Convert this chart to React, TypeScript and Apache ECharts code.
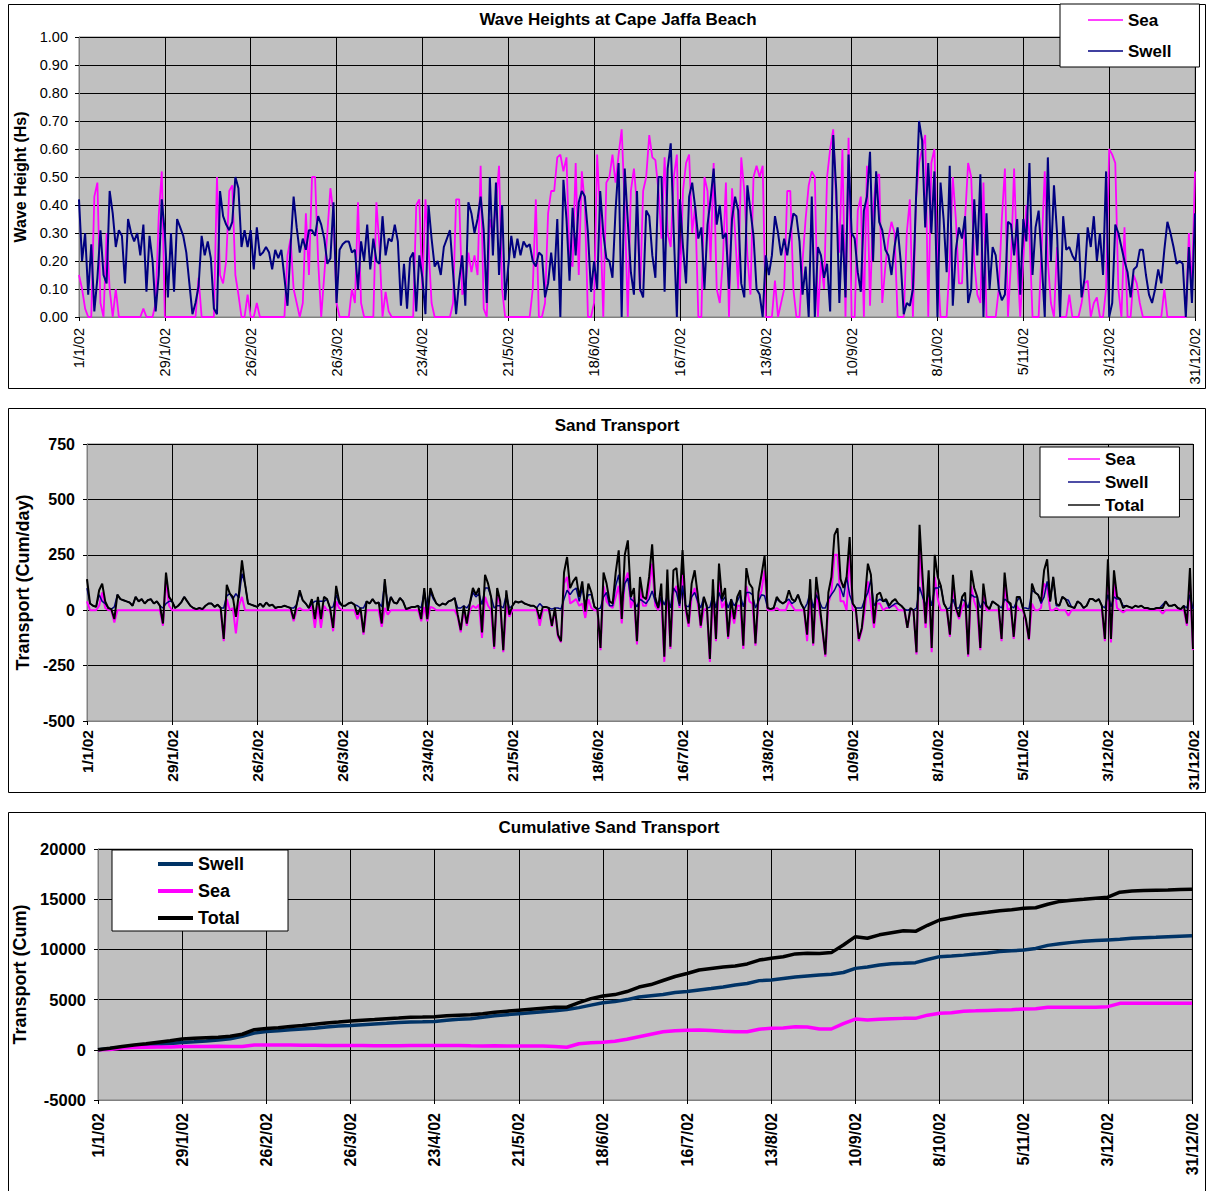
import React, { useEffect, useRef } from "react";
import * as echarts from "echarts";

const FONT = '"Liberation Sans", Arial, Helvetica, sans-serif';

// x axis: day of year 2002 (0 = 1 Jan), labelled every four weeks
const DATE_TICKS = [
  "1/1/02", "29/1/02", "26/2/02", "26/3/02", "23/4/02", "21/5/02", "18/6/02",
  "16/7/02", "13/8/02", "10/9/02", "8/10/02", "5/11/02", "3/12/02", "31/12/02",
];
const TICK_STEP_DAYS = 28;
const LAST_DAY = 364;
const CUM_STEP_DAYS = 4;

// Daily significant wave height (m)
const SEA_HS = [
  0.15, 0.10, 0.03, 0, 0, 0.43, 0.48, 0.05, 0, 0.30,
  0.10, 0, 0.10, 0, 0, 0, 0, 0, 0, 0,
  0, 0.03, 0, 0, 0, 0.05, 0.36, 0.52, 0, 0,
  0, 0, 0, 0, 0, 0, 0, 0, 0, 0.14,
  0, 0, 0, 0, 0, 0.50, 0.15, 0.12, 0.20, 0.45,
  0.47, 0.15, 0.08, 0, 0, 0.08, 0, 0, 0.05, 0,
  0, 0, 0, 0, 0, 0, 0, 0, 0.22, 0.28,
  0.10, 0.05, 0, 0.05, 0.37, 0.15, 0.50, 0.50, 0.20, 0,
  0.15, 0.30, 0.46, 0.37, 0.05, 0, 0, 0, 0, 0.10,
  0.05, 0.41, 0.05, 0, 0, 0, 0, 0.41, 0.25, 0,
  0.09, 0.02, 0, 0, 0, 0, 0, 0, 0, 0,
  0.40, 0.42, 0.10, 0.42, 0.25, 0.05, 0, 0, 0, 0,
  0, 0, 0.05, 0.42, 0.42, 0.08, 0.10, 0.23, 0.16, 0.22,
  0.15, 0.54, 0.03, 0, 0.35, 0.30, 0.40, 0.54, 0.10, 0,
  0, 0, 0, 0, 0, 0, 0, 0, 0.10, 0.42,
  0, 0, 0.05, 0.37, 0.45, 0.45, 0.57, 0.58, 0.52, 0.57,
  0.20, 0.18, 0.55, 0.15, 0.52, 0.40, 0, 0, 0.05, 0.58,
  0.36, 0, 0.48, 0.50, 0.58, 0.48, 0.58, 0.67, 0.40, 0,
  0.45, 0.53, 0.40, 0.09, 0.45, 0.50, 0.65, 0.57, 0.56, 0.45,
  0.28, 0.57, 0.30, 0.25, 0.50, 0.58, 0.10, 0.45, 0.55, 0.58,
  0.30, 0.40, 0, 0, 0.50, 0.45, 0.20, 0.55, 0.10, 0.05,
  0.20, 0.48, 0, 0.46, 0.30, 0.10, 0.57, 0.45, 0.22, 0.08,
  0.50, 0.54, 0.50, 0.54, 0, 0, 0, 0.13, 0, 0.05,
  0.10, 0.45, 0.45, 0.10, 0, 0, 0.20, 0.35, 0.47, 0.52,
  0.50, 0, 0.20, 0.10, 0.50, 0.60, 0.67, 0.40, 0.23, 0.60,
  0, 0.64, 0, 0, 0.38, 0.43, 0, 0.54, 0.04, 0.38,
  0.50, 0.51, 0.05, 0.18, 0.28, 0.34, 0.30, 0, 0, 0,
  0.30, 0.42, 0, 0.42, 0.55, 0.60, 0.65, 0, 0.55, 0.60,
  0.20, 0, 0, 0, 0.20, 0.50, 0.35, 0.12, 0.12, 0.35,
  0.55, 0.50, 0.20, 0.08, 0.05, 0.48, 0, 0, 0, 0,
  0.10, 0.35, 0.53, 0, 0.20, 0.53, 0.20, 0, 0.20, 0.40,
  0.30, 0, 0, 0, 0.25, 0.52, 0.20, 0.05, 0, 0.25,
  0, 0, 0, 0.08, 0, 0, 0, 0.05, 0.12, 0.13,
  0, 0.05, 0.07, 0, 0, 0.10, 0.60, 0.58, 0.55, 0.10,
  0, 0.32, 0, 0, 0.15, 0.12, 0.05, 0, 0, 0,
  0, 0, 0, 0, 0.10, 0, 0, 0, 0, 0,
  0, 0, 0.30, 0.10, 0.52,
];

const SWELL_HS = [
  0.42, 0.20, 0.30, 0.08, 0.26, 0.02, 0.14, 0.31, 0.15, 0.12,
  0.45, 0.37, 0.25, 0.31, 0.29, 0.12, 0.35, 0.30, 0.27, 0.30,
  0.22, 0.33, 0.09, 0.29, 0.20, 0.02, 0.15, 0.42, 0.30, 0.07,
  0.30, 0.09, 0.35, 0.32, 0.29, 0.23, 0.12, 0.01, 0.05, 0.11,
  0.29, 0.22, 0.27, 0.21, 0.03, 0.01, 0.45, 0.36, 0.33, 0.31,
  0.34, 0.50, 0.46, 0.25, 0.31, 0.25, 0.31, 0.17, 0.32, 0.22,
  0.23, 0.25, 0.23, 0.17, 0.24, 0.21, 0.24, 0.14, 0.04, 0.25,
  0.43, 0.32, 0.23, 0.28, 0.24, 0.31, 0.31, 0.29, 0.36, 0.33,
  0.28, 0.19, 0.21, 0.41, 0.05, 0.24, 0.26, 0.27, 0.27, 0.23,
  0.24, 0.10, 0.27, 0.20, 0.33, 0.17, 0.28, 0.20, 0.19, 0.36,
  0.22, 0.28, 0.27, 0.33, 0.27, 0.04, 0.19, 0.03, 0.21, 0.23,
  0.02, 0.22, 0.14, 0.01, 0.40, 0.28, 0.18, 0.20, 0.15, 0.25,
  0.28, 0.31, 0.16, 0.01, 0.13, 0.22, 0.04, 0.41, 0.37, 0.30,
  0.35, 0.43, 0.31, 0.05, 0.50, 0.22, 0.48, 0.15, 0.40, 0.06,
  0.18, 0.29, 0.21, 0.28, 0.22, 0.27, 0.25, 0.26, 0.20, 0.18,
  0.23, 0.22, 0.07, 0.12, 0.23, 0.13, 0.35, 0.00, 0.49, 0.35,
  0.13, 0.39, 0.22, 0.41, 0.45, 0.43, 0.30, 0.09, 0.20, 0.10,
  0.45, 0.30, 0.21, 0.20, 0.14, 0.38, 0.55, 0.00, 0.53, 0.34,
  0.16, 0.08, 0.45, 0.10, 0.07, 0.38, 0.36, 0.22, 0.14, 0.50,
  0.50, 0.09, 0.53, 0.62, 0.30, 0.00, 0.42, 0.25, 0.12, 0.43,
  0.48, 0.39, 0.28, 0.32, 0.10, 0.33, 0.42, 0.53, 0.33, 0.40,
  0.28, 0.30, 0.10, 0.35, 0.43, 0.38, 0.12, 0.07, 0.47, 0.38,
  0.29, 0.10, 0.08, 0.00, 0.22, 0.15, 0.22, 0.36, 0.30, 0.22,
  0.28, 0.22, 0.30, 0.37, 0.36, 0.27, 0.08, 0.18, 0.00, 0.43,
  0.00, 0.25, 0.22, 0.14, 0.19, 0.02, 0.65, 0.45, 0.05, 0.33,
  0.07, 0.58, 0.30, 0.28, 0.16, 0.09, 0.38, 0.43, 0.59, 0.20,
  0.52, 0.34, 0.31, 0.24, 0.22, 0.15, 0.25, 0.32, 0.20, 0.01,
  0.05, 0.04, 0.10, 0.42, 0.70, 0.63, 0.32, 0.55, 0.30, 0.52,
  0.00, 0.48, 0.35, 0.16, 0.54, 0.04, 0.24, 0.32, 0.28, 0.36,
  0.05, 0.10, 0.42, 0.22, 0.51, 0.00, 0.37, 0.10, 0.25, 0.22,
  0.10, 0.06, 0.08, 0.34, 0.33, 0.22, 0.35, 0.08, 0.35, 0.27,
  0.55, 0.15, 0.32, 0.38, 0.20, 0.00, 0.57, 0.20, 0.47, 0.30,
  0.00, 0.36, 0.24, 0.25, 0.22, 0.20, 0.30, 0.07, 0.14, 0.32,
  0.25, 0.36, 0.20, 0.30, 0.15, 0.52, 0.00, 0.05, 0.33, 0.30,
  0.25, 0.20, 0.16, 0.07, 0.17, 0.18, 0.24, 0.24, 0.15, 0.08,
  0.05, 0.10, 0.17, 0.12, 0.24, 0.34, 0.30, 0.25, 0.19, 0.20,
  0.19, 0.00, 0.25, 0.05, 0.37,
];

// Daily longshore sand transport (cubic metres per day)
const SEA_Q = [
  40, 0, 0, 0, 20, 80, 10, 0, 0, -55,
  0, 0, 0, 0, 0, 0, 0, 0, 0, 0,
  0, 0, 0, 0, 0, -70, 140, 20, 0, 0,
  0, 0, 0, 0, 0, 0, 0, 0, 0, 0,
  0, 0, 0, 0, 0, -140, 50, 0, 10, -105,
  20, 60, 0, 0, 0, 0, 0, 0, 0, 0,
  0, 0, 0, 0, 0, 0, 0, 0, -50, 0,
  10, 0, 0, 0, 20, -80, 20, -80, 20, 0,
  0, -95, 40, 10, 0, 0, 0, 0, 0, -40,
  0, -110, 0, 0, 0, 0, 0, -75, 10, -20,
  0, 0, 0, 0, 0, 0, 0, 0, 0, 0,
  -50, 15, -50, 15, 10, 0, 0, 0, 0, 0,
  0, 0, -30, -100, 0, -70, 0, 20, 10, 25,
  -125, 60, 20, 0, -175, 80, 20, -190, 20, -30,
  0, 0, 0, 0, 0, 0, 0, 0, 0, -70,
  0, 0, 0, -75, 0, -120, -145, 120, 150, 30,
  40, 50, 20, 30, -35, 50, 10, 0, 0, -180,
  110, 40, 20, 10, 60, 110, -60, 130, 170, 10,
  60, -155, 100, 20, 20, 100, 210, 20, 0, 60,
  -233, 120, -175, 80, 110, 10, 160, 0, -75, 60,
  100, 30, -80, 0, 10, -233, 70, -140, 130, 10,
  40, -130, 0, -60, 20, 20, -175, 110, 40, 30,
  -160, 40, 90, 180, 0, 0, 0, 10, 0, 0,
  0, 40, 20, 0, 0, 0, 0, -140, 60, -160,
  80, 0, -90, -210, 30, 80, 250, 250, 40, 40,
  0, 260, 0, 0, -140, -90, 0, 130, 20, -80,
  30, 30, 0, 10, 10, 20, 20, 0, 0, 0,
  -80, 5, 0, -200, 280, 90, -80, 100, -190, 150,
  50, 0, 0, 0, -120, 110, 0, -40, 10, 40,
  -210, 110, 40, 0, -180, 80, 0, 0, 0, 0,
  0, -140, 120, 0, 10, -130, 20, 0, 0, -50,
  -135, 30, 0, 0, 10, 120, 100, 0, 0, 10,
  0, 0, 0, -25, 0, 0, 0, 0, 0, 0,
  0, 0, 0, 0, 0, -140, 160, -145, 120, 10,
  0, -10, 0, 0, 0, 0, 0, 0, 0, 0,
  0, 0, 0, 0, -15, 0, 0, 0, 0, 0,
  0, 0, -70, 120, -180,
];

const SWELL_Q = [
  100, 30, 20, 15, 70, 40, 30, 10, 5, 15,
  70, 50, 45, 40, 35, 20, 60, 40, 50, 30,
  45, 50, 30, 40, 20, 10, 30, 40, 40, 10,
  20, 35, 60, 40, 20, 10, 5, 10, 5, 20,
  30, 30, 15, 25, 10, 10, 65, 75, 50, 75,
  55, 165, 120, 30, 25, 20, 15, 30, 15, 35,
  20, 25, 10, 15, 15, 20, 15, 10, 10, 25,
  80, 45, 30, 10, 30, 40, 40, 40, 40, 50,
  10, 15, 70, 30, 20, 20, 30, 35, 25, 20,
  10, 10, 40, 30, 50, 30, 35, 15, 130, 20,
  60, 35, 30, 55, 40, 5, 10, 15, 15, 20,
  10, 85, 10, 85, 50, 30, 20, 30, 25, 40,
  45, 55, 10, 10, 20, 10, 30, 80, 60, 75,
  25, 100, 100, 60, 10, 20, 20, 10, 70, 10,
  20, 40, 35, 40, 30, 25, 20, 20, 10, 30,
  15, 15, 10, 5, 10, 10, 5, 50, 90, 70,
  90, 100, 40, 100, 30, 70, 70, 15, 5, 10,
  60, 80, 20, 20, 110, 160, 20, 120, 145, 50,
  40, 15, 50, 40, 30, 50, 87, 40, 10, 60,
  23, 64, 10, 100, 80, 20, 111, 20, 15, 60,
  80, 40, 10, 60, 10, 13, 70, 10, 80, 40,
  60, 10, 50, 20, 40, 70, 15, 80, 80, 70,
  10, 40, 70, 65, 10, 5, 10, 50, 40, 30,
  40, 50, 30, 40, 70, 30, 5, 30, 80, 10,
  70, 40, 10, 10, 50, 70, 90, 120, 100, 60,
  150, 70, 30, 10, 10, 10, 50, 80, 140, 20,
  40, 50, 40, 40, 10, 20, 30, 30, 20, 5,
  0, 5, 0, 10, 105, 60, 20, 80, 20, 100,
  100, 110, 30, 5, 10, 50, 10, 10, 50, 40,
  10, 70, 60, 60, 10, 40, 20, 5, 40, 30,
  20, 10, 50, 40, 20, 10, 40, 60, 10, 10,
  5, 90, 80, 70, 30, 60, 130, 40, 150, 20,
  20, 60, 50, 45, 15, 10, 40, 30, 10, 20,
  50, 50, 40, 50, 20, 10, 70, 15, 60, 50,
  50, 20, 20, 15, 10, 20, 15, 20, 10, 10,
  5, 5, 10, 10, 25, 40, 20, 20, 25, 10,
  5, 20, 10, 70, 5,
];

// Cumulative transport (cubic metres), one value every CUM_STEP_DAYS days
const CUM_SWELL = [
  0, 120, 250, 350, 430, 520, 620, 730, 800, 880,
  980, 1100, 1350, 1660, 1830, 1900, 2000, 2080, 2150, 2280,
  2360, 2420, 2500, 2580, 2650, 2730, 2760, 2790, 2830, 2950,
  3050, 3100, 3250, 3400, 3500, 3600, 3700, 3800, 3900, 4020,
  4200, 4450, 4680, 4800, 5000, 5260, 5380, 5500, 5700, 5800,
  5960, 6100, 6250, 6460, 6600, 6890, 6950, 7100, 7250, 7350,
  7450, 7520, 7700, 8110, 8250, 8450, 8580, 8620, 8680, 9000,
  9280, 9350, 9430, 9530, 9650, 9780, 9860, 9940, 10100, 10400,
  10560, 10700, 10800, 10880, 10940, 11000, 11100, 11150, 11200, 11260,
  11320, 11370,
];
const CUM_SEA = [
  0, 40, 180, 240, 260, 270, 280, 330, 340, 340,
  350, 340, 330, 470, 480, 480, 470, 460, 450, 440,
  430, 430, 420, 400, 400, 400, 420, 430, 440, 440,
  430, 400, 380, 400, 380, 380, 380, 380, 340, 250,
  600, 700, 760, 850, 1050, 1300, 1550, 1800, 1900, 1950,
  1970, 1920, 1850, 1800, 1800, 2050, 2150, 2170, 2300, 2280,
  2070, 2070, 2600, 3060, 2970, 3050, 3100, 3130, 3130, 3450,
  3630, 3700, 3850, 3880, 3920, 3960, 4000, 4060, 4100, 4230,
  4230, 4230, 4230, 4230, 4300, 4630, 4630, 4630, 4630, 4630,
  4630, 4630,
];
const CUM_TOTAL = [
  0, 150, 330, 480, 600, 750, 900, 1070, 1150, 1200,
  1250, 1350, 1550, 2000, 2130, 2200, 2330, 2420, 2550, 2680,
  2760, 2860, 2950, 3020, 3100, 3160, 3230, 3260, 3300, 3380,
  3450, 3480, 3600, 3750, 3850, 3950, 4050, 4150, 4230, 4250,
  4700, 5100, 5350, 5500, 5800, 6250, 6500, 6900, 7300, 7600,
  7950, 8100, 8250, 8350, 8550, 8940, 9110, 9270, 9550, 9620,
  9600, 9680, 10440, 11270, 11110, 11450, 11650, 11850, 11800, 12400,
  12930, 13150, 13400, 13550, 13700, 13860, 13950, 14090, 14150, 14500,
  14780, 14900, 14990, 15100, 15200, 15700, 15820, 15860, 15900, 15920,
  15960, 15990,
];

const LEGEND_TEXT: Record<string, string> = {
  hsSea: "Sea", hsSwell: "Swell",
  qSea: "Sea", qSwell: "Swell", qTotal: "Total",
  cumSwell: "Swell", cumSea: "Sea", cumTotal: "Total",
};

const MAGENTA = "#FF00FF";
const NAVY = "#000080";
const DEEP_BLUE = "#003366";
const BLACK = "#000000";

const TOTAL_Q = SEA_Q.map((v, i) => v + SWELL_Q[i]);
const daily = (arr: number[]) => arr.map((v, i) => [i, v]);
const stepped = (arr: number[], step: number) => arr.map((v, i) => [i * step, v]);

function xAxisFor(gridIndex: number, bold: boolean, size: number, margin: number) {
  return {
    type: "value",
    gridIndex,
    min: 0,
    max: LAST_DAY,
    interval: TICK_STEP_DAYS,
    axisLine: { show: true, onZero: false, lineStyle: { color: "#808080", width: 1 } },
    axisTick: { show: true, length: 4, lineStyle: { color: "#000" } },
    splitLine: { show: true, lineStyle: { color: "#000", width: 1 } },
    axisLabel: {
      rotate: 90,
      margin,
      color: "#000",
      fontFamily: FONT,
      fontSize: size,
      fontWeight: bold ? "bold" : "normal",
      formatter: (v: number) => DATE_TICKS[Math.round(v / TICK_STEP_DAYS)] ?? "",
    },
  };
}

function yAxisFor(
  gridIndex: number, min: number, max: number, interval: number,
  name: string, nameGap: number, nameSize: number,
  bold: boolean, size: number, margin: number,
  fmt: (v: number) => string,
) {
  return {
    type: "value",
    gridIndex,
    min, max, interval,
    name,
    nameLocation: "middle",
    nameGap,
    nameRotate: 90,
    nameTextStyle: { color: "#000", fontFamily: FONT, fontSize: nameSize, fontWeight: "bold" },
    axisLine: { show: true, lineStyle: { color: "#808080", width: 1 } },
    axisTick: { show: true, length: 4, lineStyle: { color: "#000" } },
    splitLine: { show: true, lineStyle: { color: "#000", width: 1 } },
    axisLabel: {
      margin, color: "#000", fontFamily: FONT, fontSize: size,
      fontWeight: bold ? "bold" : "normal", formatter: fmt,
    },
  };
}

function lineSeries(name: string, axis: number, data: number[][], color: string, width: number) {
  return {
    name,
    type: "line",
    xAxisIndex: axis,
    yAxisIndex: axis,
    data,
    symbol: "none",
    showSymbol: false,
    clip: true,
    lineStyle: { color, width },
    itemStyle: { color },
    emphasis: { disabled: true },
  };
}

// Legend keys are drawn as flat bars, as thick as the series line
function legendFor(data: string[], left: number, top: number, padding: number[],
  itemWidth: number, keyThickness: number, itemGap: number, fontSize: number) {
  return {
    data,
    orient: "vertical",
    left, top,
    padding,
    icon: "rect",
    itemWidth,
    itemHeight: keyThickness,
    itemGap,
    selectedMode: false,
    backgroundColor: "#fff",
    borderColor: "#000",
    borderWidth: 1,
    borderRadius: 0,
    formatter: (n: string) => LEGEND_TEXT[n] ?? n,
    textStyle: { color: "#000", fontFamily: FONT, fontSize, fontWeight: "bold", lineHeight: 20 },
  };
}

export default function App() {
  const ref = useRef<HTMLDivElement>(null);

  useEffect(() => {
    if (!ref.current) return;
    const chart = echarts.init(ref.current, undefined, { renderer: "svg" });

    const titleStyle = { color: "#000", fontFamily: FONT, fontSize: 17, fontWeight: "bold" };
    const frame = (y: number, h: number) => ({
      type: "rect",
      silent: true,
      shape: { x: 8.5, y: y + 0.5, width: 1197, height: h },
      style: { fill: "none", stroke: "#000", lineWidth: 1 },
    });

    chart.setOption({
      animation: false,
      backgroundColor: "#fff",
      title: [
        { text: "Wave Heights at Cape Jaffa Beach", left: 618, top: 11, textAlign: "center", padding: 0, textStyle: titleStyle },
        { text: "Sand Transport", left: 617, top: 417, textAlign: "center", padding: 0, textStyle: titleStyle },
        { text: "Cumulative Sand Transport", left: 609, top: 819, textAlign: "center", padding: 0, textStyle: titleStyle },
      ],
      graphic: [frame(4, 384), frame(408, 384), frame(812, 390)],
      legend: [
        legendFor(["hsSea", "hsSwell"], 1060, 4, [6, 28, 6, 28], 35, 1.6, 11, 17),
        legendFor(["qSea", "qSwell", "qTotal"], 1040, 447, [2, 31, 2, 28], 32, 1.4, 3, 17),
        legendFor(["cumSwell", "cumSea", "cumTotal"], 112, 850, [4, 44, 3, 46], 35, 4, 7, 18),
      ],
      grid: [
        { left: 79, top: 37, width: 1116, height: 280, show: true, backgroundColor: "#C0C0C0", borderColor: "#808080", borderWidth: 1 },
        { left: 87, top: 444, width: 1106, height: 277, show: true, backgroundColor: "#C0C0C0", borderColor: "#808080", borderWidth: 1 },
        { left: 98, top: 849, width: 1094, height: 251, show: true, backgroundColor: "#C0C0C0", borderColor: "#808080", borderWidth: 1 },
      ],
      xAxis: [
        xAxisFor(0, false, 14.5, 11),
        xAxisFor(1, true, 15.5, 9),
        xAxisFor(2, true, 16, 13),
      ],
      yAxis: [
        yAxisFor(0, 0, 1, 0.1, "Wave Height (Hs)", 48, 16, false, 14.5, 11, (v) => v.toFixed(2)),
        yAxisFor(1, -500, 750, 250, "Transport (Cum/day)", 54, 18, true, 16, 12, (v) => String(v)),
        yAxisFor(2, -5000, 20000, 5000, "Transport (Cum)", 65, 18, true, 16.5, 12, (v) => String(v)),
      ],
      series: [
        lineSeries("hsSea", 0, daily(SEA_HS), MAGENTA, 1.8),
        lineSeries("hsSwell", 0, daily(SWELL_HS), NAVY, 2),
        lineSeries("qSea", 1, daily(SEA_Q), MAGENTA, 2),
        lineSeries("qSwell", 1, daily(SWELL_Q), NAVY, 1.5),
        lineSeries("qTotal", 1, daily(TOTAL_Q), BLACK, 2),
        lineSeries("cumSwell", 2, stepped(CUM_SWELL, CUM_STEP_DAYS), DEEP_BLUE, 3.5),
        lineSeries("cumSea", 2, stepped(CUM_SEA, CUM_STEP_DAYS), MAGENTA, 3.5),
        lineSeries("cumTotal", 2, stepped(CUM_TOTAL, CUM_STEP_DAYS), BLACK, 3.5),
      ],
    });

    return () => chart.dispose();
  }, []);

  return (
    <div
      ref={ref}
      style={{ position: "absolute", left: 0, top: 0, width: 1214, height: 1191, background: "#fff" }}
    />
  );
}
